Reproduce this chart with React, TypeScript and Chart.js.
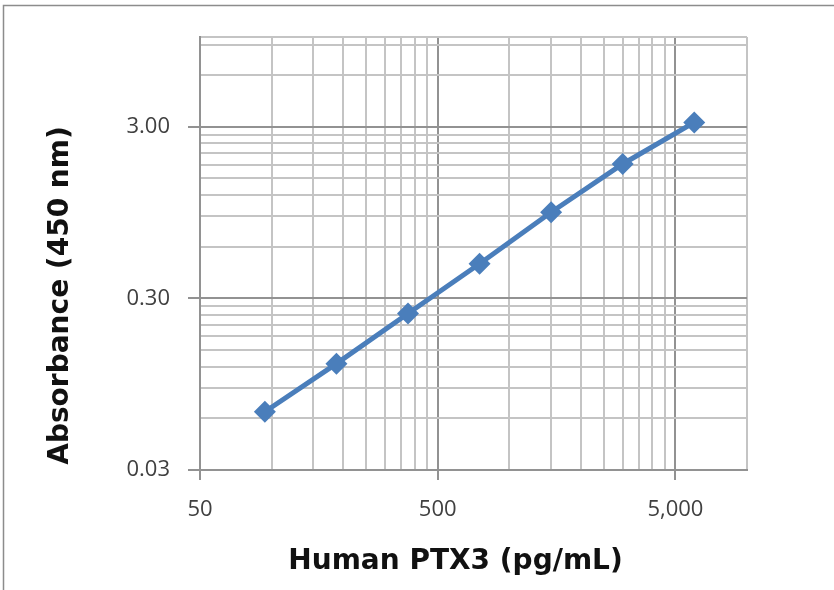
import React, { useEffect, useRef } from "react";
import { Chart, registerables } from "chart.js";

Chart.register(...registerables);

const concentrations = [93.75, 187.5, 375, 750, 1500, 3000, 6000];
const absorbance = [0.0655, 0.125, 0.245, 0.477, 0.952, 1.82, 3.18];

const xMajorTicks = [50, 500, 5000];
const xMajorLabels = ["50", "500", "5,000"];
const yMajorTicks = [0.03, 0.3, 3];
const yMajorLabels = ["0.03", "0.30", "3.00"];

const xMin = 50;
const xMax = 10000;
const yMin = 0.03;
const yMax = 10;

const xTitle = "Human PTX3 (pg/mL)";
const yTitle = "Absorbance (450 nm)";

const titleFont = "bold 28px 'DejaVu Sans', Verdana, sans-serif";
const tickFamily = "'Open Sans', 'DejaVu Sans', sans-serif";

function buildLogTicks(majors: number[], min: number, max: number) {
  const vals: number[] = [];
  for (const m of majors) {
    for (let k = 1; k <= 9; k++) {
      const v = m * k;
      if (v >= min - 1e-12 && v <= max + 1e-9) vals.push(v);
    }
  }
  if (!vals.some((v) => Math.abs(v - max) / max < 1e-9)) vals.push(max);
  return vals.sort((a, b) => a - b);
}

function majorIndex(v: number, majors: number[]) {
  return majors.findIndex((m) => Math.abs(v - m) / m < 1e-6);
}

const frame = {
  id: "frame",
  beforeDraw(chart: any) {
    const ctx = chart.ctx;
    ctx.save();
    ctx.fillStyle = "#ffffff";
    ctx.fillRect(0, 0, chart.width, chart.height);
    ctx.strokeStyle = "#8c8c8c";
    ctx.lineWidth = 1.5;
    ctx.strokeRect(3.5, 5.5, chart.width + 20, chart.height + 20);
    ctx.restore();
  },
};

const axisTitles = {
  id: "axisTitles",
  afterDraw(chart: any) {
    const ctx = chart.ctx;
    const area = chart.chartArea;
    ctx.save();
    ctx.fillStyle = "#111111";
    ctx.font = titleFont;
    ctx.textAlign = "center";
    ctx.textBaseline = "alphabetic";
    // x-axis title, slightly left of plot centre as in the reference
    ctx.fillText(xTitle, (area.left + area.right) / 2 - 18, 569);
    // y-axis title, rotated
    ctx.translate(68, (area.top + area.bottom) / 2 + 42);
    ctx.rotate(-Math.PI / 2);
    ctx.fillText(yTitle, 0, 0);
    ctx.restore();
  },
};

export default function App() {
  const ref = useRef<HTMLCanvasElement | null>(null);

  useEffect(() => {
    if (!ref.current) return;
    const chart = new Chart(ref.current, {
      type: "line",
      data: {
        datasets: [
          {
            data: concentrations.map((x, i) => ({ x, y: absorbance[i] })),
            borderColor: "#4a7ebb",
            backgroundColor: "#4a7ebb",
            borderWidth: 5,
            pointStyle: "rectRot",
            pointRadius: 11,
            pointHoverRadius: 11,
            pointBorderWidth: 0,
            pointBackgroundColor: "#4a7ebb",
            tension: 0,
            clip: false as any,
          },
        ],
      },
      options: {
        responsive: false,
        animation: false,
        devicePixelRatio: 1,
        layout: { padding: { top: 37, right: 87, left: 0, bottom: 0 } },
        plugins: {
          legend: { display: false },
          tooltip: { enabled: false },
        },
        scales: {
          x: {
            type: "logarithmic",
            min: xMin,
            max: xMax,
            afterBuildTicks: (scale: any) => {
              scale.ticks = buildLogTicks(xMajorTicks, xMin, xMax).map((v) => ({ value: v }));
            },
            afterFit: (scale: any) => {
              scale.height = 120;
            },
            ticks: {
              autoSkip: false,
              maxRotation: 0,
              minRotation: 0,
              padding: 17,
              color: "#404040",
              font: { family: tickFamily, size: 22 },
              callback: (v: any) => {
                const i = majorIndex(Number(v), xMajorTicks);
                return i >= 0 ? xMajorLabels[i] : "";
              },
            },
            grid: {
              lineWidth: 2,
              color: (ctx: any) =>
                ctx.tick && majorIndex(ctx.tick.value, xMajorTicks) >= 0 ? "#929292" : "#c4c4c4",
              tickColor: (ctx: any) =>
                ctx.tick && majorIndex(ctx.tick.value, xMajorTicks) >= 0 ? "#929292" : "rgba(0,0,0,0)",
              tickLength: 10,
              drawTicks: true,
            },
            border: { display: true, color: "#929292", width: 2 },
            title: { display: false },
          },
          y: {
            type: "logarithmic",
            min: yMin,
            max: yMax,
            afterBuildTicks: (scale: any) => {
              scale.ticks = buildLogTicks(yMajorTicks, yMin, yMax).map((v) => ({ value: v }));
            },
            afterFit: (scale: any) => {
              scale.width = 200;
            },
            ticks: {
              autoSkip: false,
              padding: 18,
              color: "#404040",
              font: { family: tickFamily, size: 22 },
              callback: (v: any) => {
                const i = majorIndex(Number(v), yMajorTicks);
                return i >= 0 ? yMajorLabels[i] : "";
              },
            },
            grid: {
              lineWidth: 2,
              color: (ctx: any) =>
                ctx.tick && majorIndex(ctx.tick.value, yMajorTicks) >= 0 ? "#929292" : "#c4c4c4",
              tickColor: (ctx: any) =>
                ctx.tick && majorIndex(ctx.tick.value, yMajorTicks) >= 0 ? "#929292" : "rgba(0,0,0,0)",
              tickLength: 12,
              drawTicks: true,
            },
            border: { display: true, color: "#929292", width: 2 },
            title: { display: false },
          },
        },
      },
      plugins: [frame, axisTitles],
    });
    return () => chart.destroy();
  }, []);

  return (
    <div style={{ position: "fixed", left: 0, top: 0, width: 834, height: 590, background: "#fff" }}>
      <canvas ref={ref} width={834} height={590} style={{ display: "block" }} />
    </div>
  );
}
